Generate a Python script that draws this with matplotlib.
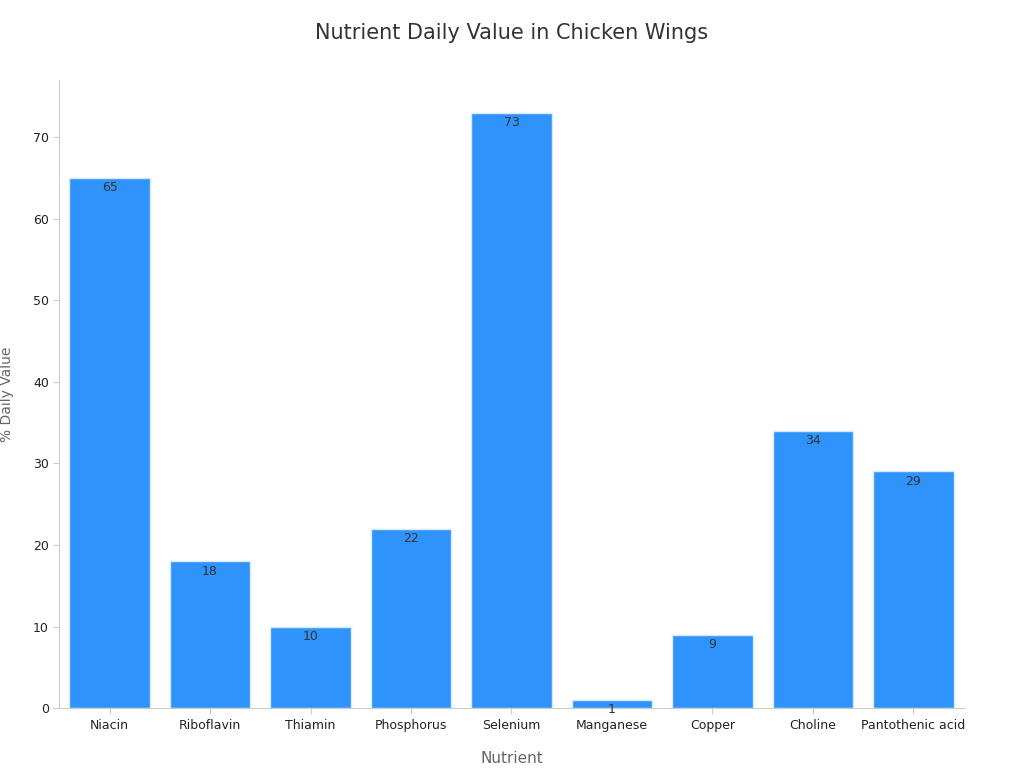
import matplotlib
matplotlib.use('Agg')
import matplotlib.pyplot as plt

nutrients = ['Niacin', 'Riboflavin', 'Thiamin', 'Phosphorus', 'Selenium',
             'Manganese', 'Copper', 'Choline', 'Pantothenic acid']
daily_value = [65, 18, 10, 22, 73, 1, 9, 34, 29]

fig = plt.figure(figsize=(10.24, 7.68), dpi=100)
ax = fig.add_axes([0.058, 0.078, 0.883, 0.818])

bars = ax.bar(nutrients, daily_value, width=0.8, color='#2E93FA',
              edgecolor='#D6E9FD', linewidth=1)
for b, v in zip(bars, daily_value):
    ax.text(b.get_x() + b.get_width() / 2, v - 0.4, str(v),
            ha='center', va='top', fontsize=9, color='#333333')

ax.set_xlim(-0.5, len(nutrients) - 0.5)
ax.set_ylim(0, 77)
ax.set_yticks(range(0, 71, 10))
for s in ['top', 'right']:
    ax.spines[s].set_visible(False)
for s in ['left', 'bottom']:
    ax.spines[s].set_color('#cccccc')
ax.tick_params(colors='#222222', labelsize=9, length=4)
ax.tick_params(axis='both', color='#cccccc')
ax.set_xlabel('Nutrient', fontsize=11, color='#666666', labelpad=14)
ax.set_ylabel('% Daily Value', fontsize=10, color='#666666', labelpad=14)
fig.suptitle('Nutrient Daily Value in Chicken Wings', fontsize=15,
             color='#333333', y=0.97)

plt.savefig('out.png')
